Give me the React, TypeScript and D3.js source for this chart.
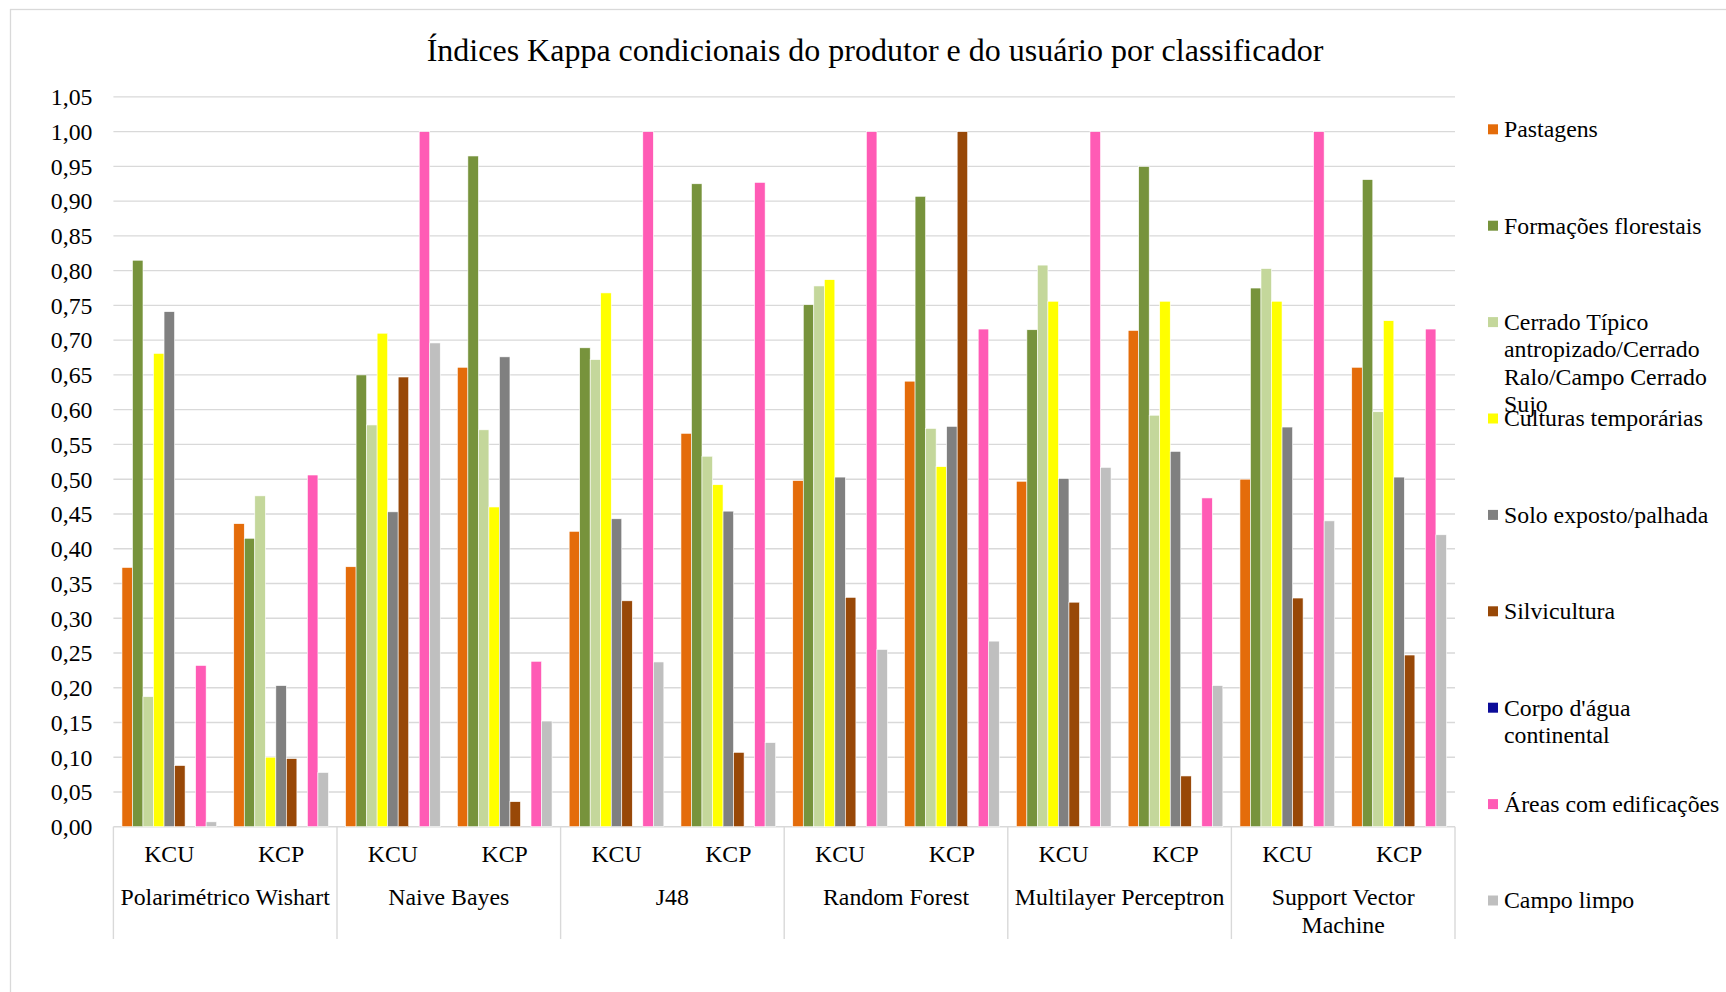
import React from "react";
import * as d3 from "d3";

const groups = ["Polarimétrico Wishart", "Naive Bayes", "J48", "Random Forest", "Multilayer Perceptron", "Support Vector Machine"];
const subCats = ["KCU", "KCP"];
const yTicks = d3.range(0, 21 + 1).map((i) => i * 0.05);

const seriesNames = [
  "Pastagens",
  "Formações florestais",
  "Cerrado Típico antropizado/Cerrado Ralo/Campo Cerrado Sujo",
  "Culturas temporárias",
  "Solo exposto/palhada",
  "Silvicultura",
  "Corpo d'água continental",
  "Áreas com edificações",
  "Campo limpo",
];
const seriesColors = ["#E46C0A", "#77933C", "#C4D79B", "#FFFF00", "#808080", "#984807", "#0C0C99", "#FF5BB5", "#BFBFBF"];

// order: PW KCU, PW KCP, NB KCU, NB KCP, J48 KCU, J48 KCP, RF KCU, RF KCP, MLP KCU, MLP KCP, SVM KCU, SVM KCP
const pastagens = [0.373, 0.436, 0.374, 0.661, 0.425, 0.566, 0.498, 0.641, 0.497, 0.714, 0.5, 0.661];
const formacoes = [0.815, 0.415, 0.65, 0.965, 0.689, 0.925, 0.751, 0.907, 0.715, 0.95, 0.775, 0.931];
const cerrado = [0.187, 0.476, 0.578, 0.571, 0.672, 0.533, 0.778, 0.573, 0.808, 0.592, 0.803, 0.597];
const culturas = [0.681, 0.1, 0.71, 0.46, 0.768, 0.492, 0.787, 0.518, 0.756, 0.756, 0.756, 0.728];
const solo = [0.741, 0.203, 0.453, 0.676, 0.443, 0.454, 0.503, 0.576, 0.501, 0.54, 0.575, 0.503];
const silvicultura = [0.088, 0.098, 0.647, 0.036, 0.325, 0.107, 0.33, 1.0, 0.323, 0.073, 0.329, 0.247];
const corpoAgua = [0, 0, 0, 0, 0, 0, 0, 0, 0, 0, 0, 0];
const areas = [0.232, 0.506, 1.0, 0.238, 1.0, 0.927, 1.0, 0.716, 1.0, 0.473, 1.0, 0.716];
const campoLimpo = [0.007, 0.078, 0.696, 0.152, 0.237, 0.121, 0.255, 0.267, 0.517, 0.203, 0.44, 0.42];

const seriesValues = [pastagens, formacoes, cerrado, culturas, solo, silvicultura, corpoAgua, areas, campoLimpo];

const legendLines = [
  ["Pastagens"],
  ["Formações florestais"],
  ["Cerrado Típico", "antropizado/Cerrado", "Ralo/Campo Cerrado", "Sujo"],
  ["Culturas temporárias"],
  ["Solo exposto/palhada"],
  ["Silvicultura"],
  ["Corpo d'água", "continental"],
  ["Áreas com edificações"],
  ["Campo limpo"],
];
const groupLines = [["Polarimétrico Wishart"], ["Naive Bayes"], ["J48"], ["Random Forest"], ["Multilayer Perceptron"], ["Support Vector", "Machine"]];

const W = 1726;
const H = 992;
const FONT = "'Times New Roman', 'Liberation Serif', serif";
const FS = 23.8;

export default function App() {
  const left = 113.4;
  const right = 1455;
  const y0 = 826.7;
  const yTop = 96.9;
  const cats = groups.flatMap((g) => subCats.map((s) => g + "|" + s));
  const x = d3.scaleBand<string>().domain(cats).range([left, right]).paddingInner(0).paddingOuter(0);
  const cw = x.bandwidth();
  const gap = 17.1;
  const xs = d3.scaleBand<number>().domain(d3.range(seriesNames.length)).range([gap / 2, cw - gap / 2]).padding(0);
  const y = d3.scaleLinear().domain([0, 1.05]).range([y0, yTop]);
  const fmt = (v: number) => d3.format(".2f")(v).replace(".", ",");
  const groupW = cw * 2;

  const legendStart = 128.8;
  const legendStep = 96.4;
  const lineH = 27.5;

  return (
    <svg width={W} height={H} style={{ position: "absolute", left: 0, top: 0, background: "#fff" }} fontFamily={FONT}>
      <rect x={10.5} y={9.5} width={W + 20} height={H + 20} fill="#fff" stroke="#d9d9d9" strokeWidth={1.3} />
      <text x={875} y={49.5} dy="0.35em" textAnchor="middle" fontSize={32} fill="#000">
        Índices Kappa condicionais do produtor e do usuário por classificador
      </text>
      {yTicks.map((t) => (
        <g key={t}>
          <line x1={left} x2={right} y1={y(t)} y2={y(t)} stroke="#d9d9d9" strokeWidth={1.4} />
          <text x={92.5} y={y(t)} dy="0.35em" textAnchor="end" fontSize={FS} fill="#000">
            {fmt(t)}
          </text>
        </g>
      ))}
      {cats.map((c, ci) =>
        seriesValues.map((vals, si) => {
          const v = vals[ci];
          if (v <= 0) return null;
          return (
            <rect
              key={c + si}
              x={(x(c) as number) + (xs(si) as number)}
              y={y(v)}
              width={xs.bandwidth()}
              height={y0 - y(v)}
              fill={seriesColors[si]}
              stroke="#fff"
              strokeWidth={0.6}
            />
          );
        })
      )}
      {d3.range(groups.length + 1).map((i) => (
        <line key={i} x1={left + i * groupW} x2={left + i * groupW} y1={y0} y2={939} stroke="#d9d9d9" strokeWidth={1.4} />
      ))}
      {cats.map((c) => (
        <text key={c} x={(x(c) as number) + cw / 2} y={854} dy="0.35em" textAnchor="middle" fontSize={FS} fill="#000">
          {c.split("|")[1]}
        </text>
      ))}
      {groupLines.map((lines, gi) =>
        lines.map((ln, li) => (
          <text key={gi + "-" + li} x={left + gi * groupW + groupW / 2} y={897 + li * 27.5} dy="0.35em" textAnchor="middle" fontSize={FS} fill="#000">
            {ln}
          </text>
        ))
      )}
      {legendLines.map((lines, i) => {
        const cy = legendStart + i * legendStep;
        return (
          <g key={i}>
            <rect x={1488} y={cy - 4.5} width={10} height={10} fill={seriesColors[i]} />
            {lines.map((ln, li) => (
              <text key={li} x={1504} y={cy + li * lineH} dy="0.35em" fontSize={FS} fill="#000">
                {ln}
              </text>
            ))}
          </g>
        );
      })}
    </svg>
  );
}
